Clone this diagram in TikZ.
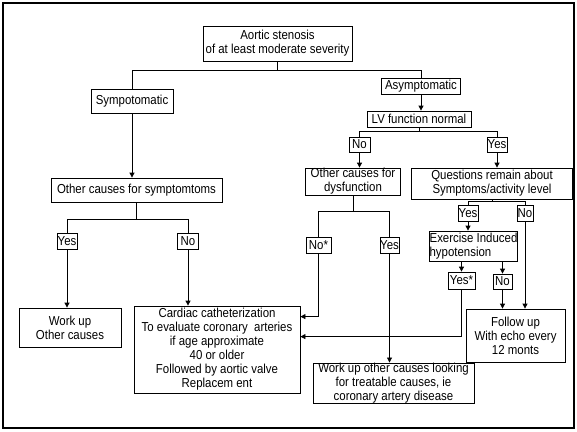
\documentclass[tikz,border=0pt]{standalone}
\usepackage{fontspec}
\setmainfont{Liberation Sans}[FakeStretch=0.88]
\usetikzlibrary{arrows.meta}

\begin{document}
\begin{tikzpicture}[x=1pt,y=-1pt,
      bx/.style={draw,line width=0.8pt,inner sep=0pt,align=center,
        font=\fontsize{13}{14}\selectfont},
      ln/.style={line width=0.8pt},
      ar/.style={line width=0.8pt,-{Triangle[length=5pt,width=5pt]}}]
    \useasboundingbox (0,0) rectangle (577,431);
    \draw[line width=2.6pt] (3,3) rectangle (574,428);
    \node[bx,minimum width=149pt,minimum height=35pt] (as) at (277.5,43.5) {Aortic stenosis\\of at least moderate severity};
    \node[bx,minimum width=82pt,minimum height=24pt] (sym) at (132,101) {Sympotomatic};
    \node[bx,minimum width=79pt,minimum height=16pt] (asy) at (421,86) {Asymptomatic};
    \node[bx,minimum width=104pt,minimum height=16pt] (lv) at (419,119) {LV function normal};
    \node[bx,minimum width=21pt,minimum height=15pt] (lvno) at (359.5,144.5) {No};
    \node[bx,minimum width=20pt,minimum height=15pt] (lvyes) at (497,144.5) {Yes};
    \node[bx,minimum width=171pt,minimum height=24pt] (ocs) at (136.5,190) {Other causes for symptomtoms};
    \node[bx,minimum width=95pt,minimum height=27pt] (ocd) at (353,181.5) {Other causes for\\dysfunction};
    \node[bx,minimum width=161pt,minimum height=31pt] (qr) at (492,183.5) {Questions remain about\\Symptoms/activity level};
    \node[bx,minimum width=20pt,minimum height=16pt] (syes) at (67,241) {Yes};
    \node[bx,minimum width=21pt,minimum height=16pt] (sno) at (188,241) {No};
    \node[bx,minimum width=25pt,minimum height=16pt] (dno) at (318.5,245) {No*};
    \node[bx,minimum width=19pt,minimum height=16pt] (dyes) at (389.5,245) {Yes};
    \node[bx,minimum width=20pt,minimum height=16pt] (qyes) at (468,213) {Yes};
    \node[bx,minimum width=16pt,minimum height=16pt] (qno) at (525,213) {No};
    \node[bx,minimum width=88pt,minimum height=30pt,align=left] (ex) at (473.5,246) {Exercise Induced\\hypotension};
    \node[bx,minimum width=27pt,minimum height=17pt] (eyes) at (461.5,280.5) {Yes*};
    \node[bx,minimum width=19pt,minimum height=15pt] (eno) at (502.5,281.5) {No};
    \node[bx,minimum width=102pt,minimum height=39pt] (wu) at (70,327.5) {Work up\\Other causes};
    \node[bx,minimum width=166pt,minimum height=87pt] (cath) at (217,349.5) {Cardiac catheterization\\To evaluate coronary~ arteries\\if age approximate\\40 or older\\Followed by aortic valve\\Replacem ent};
    \node[bx,minimum width=161pt,minimum height=40pt] (wuo) at (393.5,383) {Work up other causes looking\\for treatable causes, ie\\coronary artery disease};
    \node[bx,minimum width=99pt,minimum height=53pt] (fu) at (515.5,335.5) {Follow up\\With echo every\\12 monts};
    \foreach \p/\a/\b/\d in {as/sym/asy/9,lv/lvno/lvyes/4,ocs/syes/sno/17,ocd/dno/dyes/16,qr/qyes/qno/2} {
      \draw[ln] (\p.south) -- ++(0,\d) -| (\a.north);
      \draw[ln] (\p.south) ++(0,\d) -| (\b.north);
    }
    \foreach \a/\b in {asy/lv,lvno/ocd,lvyes/qr,sym/ocs,syes/wu,sno/cath,dyes/wuo,qyes/ex,eno/fu,qno/fu}
      \draw[ar] (\a.south) -- (\a.south |- \b.north);
    \foreach \b in {eyes,eno}
      \draw[ar] (\b.north |- ex.south) -- (\b.north);
    \draw[ar] (dno.south) |- ([yshift=-11pt]cath.north east);
    \draw[ar] (eyes.south) |- ([yshift=-31pt]cath.north east);
  \end{tikzpicture}
\end{document}
